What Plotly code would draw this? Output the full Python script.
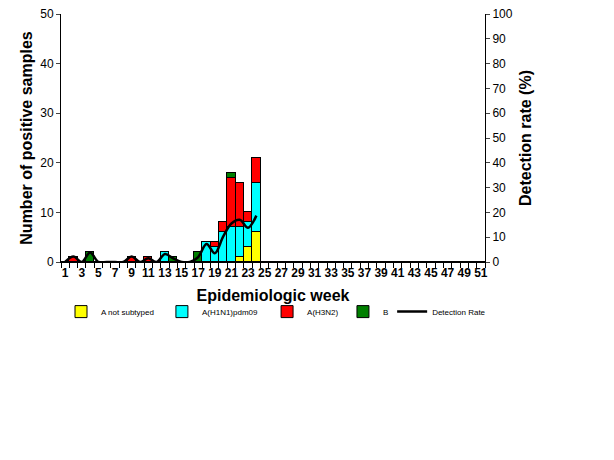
import plotly.graph_objects as go

# epidemiologic weeks 1..51
weeks = list(range(1, 52))

# samples per week (weeks 1-24, rest empty)
a_not_subtyped = [0, 0, 0, 0, 0, 0, 0, 0, 0, 0, 0, 0, 0, 0, 0, 0, 0, 0, 0, 0, 0, 1, 3, 6]
a_h1n1pdm09 = [0, 0, 0, 0, 0, 0, 0, 0, 0, 0, 0, 0, 2, 0, 0, 0, 0, 4, 3, 6, 7, 6, 5, 10]
a_h3n2 = [0, 1, 0, 0, 0, 0, 0, 0, 1, 0, 1, 0, 0, 0, 0, 0, 0, 0, 1, 2, 10, 9, 2, 5]
b_lineage = [0, 0, 0, 2, 0, 0, 0, 0, 0, 0, 0, 0, 0, 1, 0, 0, 2, 0, 0, 0, 1, 0, 0, 0]
detection_rate = [0, 2.2, 0, 3.8, 0, 0, 0, 0, 2.2, 0, 1.5, 0, 3.2, 1.5, 0, 0, 2,
                  7.3, 3.5, 10.2, 15.5, 17, 13.8, 18.7]

left_ticks = [0, 10, 20, 30, 40, 50]
right_ticks = [0, 10, 20, 30, 40, 50, 60, 70, 80, 90, 100]
week_labels = list(range(1, 52, 2))

def pad(vals):
    return vals + [0] * (len(weeks) - len(vals))

FONT = "Arial, Liberation Sans, sans-serif"

fig = go.Figure()

series = [
    ("A not subtyped", a_not_subtyped, "#ffff00", "legend"),
    ("A(H1N1)pdm09", a_h1n1pdm09, "#00ffff", "legend2"),
    ("A(H3N2)", a_h3n2, "#ff0000", "legend3"),
    ("B", b_lineage, "#007f00", "legend4"),
]
for name, vals, col, lg in series:
    fig.add_trace(go.Bar(x=weeks, y=pad(vals), name=name, legend=lg, showlegend=True,
                         marker=dict(color=col, line=dict(color="black", width=1))))

fig.add_trace(go.Scatter(x=weeks[:len(detection_rate)], y=detection_rate,
                         name="Detection Rate", yaxis="y2", mode="lines", legend="legend5",
                         showlegend=True,
                         line=dict(color="black", width=2.5, shape="spline", smoothing=1)))

def leg(x):
    return dict(orientation="h", x=x, xanchor="left", y=-0.2, yanchor="middle",
                font=dict(size=8), itemwidth=30, bgcolor="rgba(0,0,0,0)")

fig.update_layout(
    width=614, height=460,
    margin=dict(l=61, r=129, t=14, b=198),
    paper_bgcolor="white", plot_bgcolor="white",
    barmode="stack", bargap=0,
    font=dict(family=FONT, color="black"),
    xaxis=dict(range=[0.5, 51.5], tickmode="array", tickvals=week_labels,
               ticktext=["<b>%d</b>" % w for w in week_labels],
               ticks="", showline=True, linecolor="black", linewidth=1,
               tickfont=dict(size=12), zeroline=False, automargin=False,
               showgrid=False,
               minor=dict(tickmode="linear", tick0=0.5, dtick=1, ticks="outside",
                          ticklen=5, tickcolor="black", showgrid=False),
               title=dict(text="<b>Epidemiologic week</b>", font=dict(size=16), standoff=10)),
    yaxis=dict(range=[0, 50], tickvals=left_ticks, ticks="outside", ticklen=4,
               showline=True, linecolor="black", showgrid=False, zeroline=False,
               automargin=False,
               tickfont=dict(size=12), tickprefix="<b>", ticksuffix="</b>",
               title=dict(text="<b>Number of positive samples</b>", font=dict(size=16),
                          standoff=3)),
    yaxis2=dict(range=[0, 100], tickvals=right_ticks, ticks="outside", ticklen=4,
                overlaying="y", side="right", showline=True, linecolor="black",
                showgrid=False, zeroline=False, automargin=False,
                tickfont=dict(size=12), tickprefix="<b>", ticksuffix="</b>",
                title=dict(text="<b>Detection rate (%)</b>", font=dict(size=16),
                           standoff=8)),
    # inner half of the cross ticks on the right axis
    yaxis3=dict(range=[0, 100], tickvals=right_ticks, ticks="inside", ticklen=4,
                overlaying="y", side="right", showline=False, showticklabels=False,
                showgrid=False, zeroline=False, automargin=False),
    legend=leg(0.0),
    legend2=leg(0.238),
    legend3=leg(0.486),
    legend4=leg(0.665),
    legend5=leg(0.781),
)

fig.write_html("out.html", config={"displayModeBar": False},
               post_script="document.body.style.margin='0';")
